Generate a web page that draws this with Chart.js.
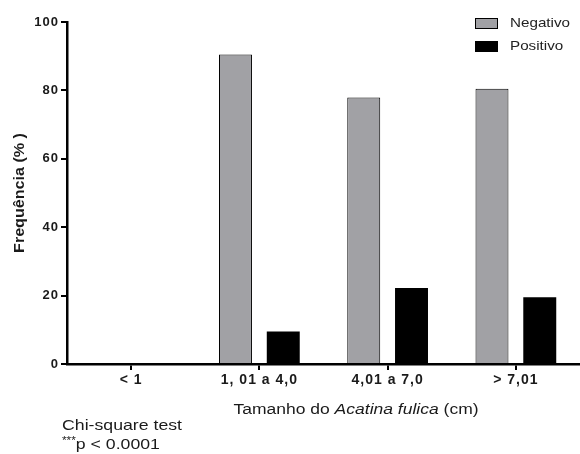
<!DOCTYPE html>
<html>
<head>
<meta charset="utf-8">
<script src="https://cdn.jsdelivr.net/npm/chart.js@4"></script>
<style>
html,body{margin:0;padding:0;background:#fff;}
#wrap{width:580px;height:454px;position:relative;}
</style>
</head>
<body>
<div id="wrap"><canvas id="c" width="580" height="454"></canvas></div>
<script>
const categories = ['< 1', '1, 01 a 4,0', '4,01 a 7,0', '> 7,01'];
const negativo = [0, 90.5, 77.9, 80.5];
const positivo = [0, 9.5, 22.2, 19.5];
const yTicks = [0, 20, 40, 60, 80, 100];
const seriesNames = ['Negativo', 'Positivo'];

const GRAY = '#a1a1a5';
const FONT = '"Liberation Sans", Arial, sans-serif';

// draw a run of text parts, stretched horizontally by sx, starting at x (or centred)
function stretched(ctx, parts, x, y, sx, align) {
  ctx.save();
  let total = 0;
  parts.forEach(p => { ctx.font = p.f; p.w = ctx.measureText(p.t).width; total += p.w; });
  let startX = align === 'center' ? x - total * sx / 2 : x;
  ctx.translate(startX, y);
  ctx.scale(sx, 1);
  ctx.textAlign = 'left';
  let cx = 0;
  parts.forEach(p => { ctx.font = p.f; ctx.fillText(p.t, cx, p.dy || 0); cx += p.w; });
  ctx.restore();
}

const overlay = {
  id: 'overlay',
  beforeDraw(chart) {
    chart.ctx.letterSpacing = '1px';
  },
  afterDraw(chart) {
    const ctx = chart.ctx;
    ctx.save();
    ctx.letterSpacing = '0px';
    ctx.textBaseline = 'middle';
    ctx.fillStyle = '#1a1a1a';
    // legend
    const items = [
      {label: seriesNames[0], fill: GRAY, y: 18},
      {label: seriesNames[1], fill: '#000', y: 41}
    ];
    items.forEach(it => {
      ctx.fillStyle = it.fill;
      ctx.fillRect(475, it.y, 23, 11);
      ctx.strokeStyle = '#000';
      ctx.lineWidth = 1;
      ctx.strokeRect(475.5, it.y + 0.5, 22, 10);
      ctx.fillStyle = '#222';
      stretched(ctx, [{t: it.label, f: '13px ' + FONT}], 510, it.y + 5, 1.17, 'left');
    });
    ctx.fillStyle = '#1a1a1a';
    // y title
    ctx.save();
    ctx.translate(20, 193);
    ctx.rotate(-Math.PI / 2);
    stretched(ctx, [{t: 'Frequência (% )', f: 'bold 14px ' + FONT}], 0, 0, 1.15, 'center');
    ctx.restore();
    // x title with italic part
    stretched(ctx, [
      {t: 'Tamanho do ', f: '14px ' + FONT},
      {t: 'Acatina fulica', f: 'italic 14px ' + FONT},
      {t: ' (cm)', f: '14px ' + FONT}
    ], 356, 410, 1.25, 'center');
    // statistics note
    stretched(ctx, [{t: 'Chi-square test', f: '15px ' + FONT}], 62, 426, 1.18, 'left');
    stretched(ctx, [
      {t: '***', f: '10px ' + FONT, dy: -4},
      {t: 'p < 0.0001', f: '15px ' + FONT}
    ], 62, 445, 1.18, 'left');
    ctx.restore();
  }
};

new Chart(document.getElementById('c'), {
  type: 'bar',
  data: {
    labels: categories,
    datasets: [
      {label: seriesNames[0], data: negativo, backgroundColor: GRAY, borderColor: '#000', borderWidth: 1, borderSkipped: 'bottom'},
      {label: seriesNames[1], data: positivo, backgroundColor: '#000', borderColor: '#000', borderWidth: 0}
    ]
  },
  options: {
    responsive: false,
    animation: false,
    categoryPercentage: 0.745,
    barPercentage: 0.69,
    layout: {padding: {top: 22, right: 0, left: 0, bottom: 0}},
    plugins: {legend: {display: false}, tooltip: {enabled: false}},
    scales: {
      x: {
        offset: true,
        afterFit(s) { s.height = 90; },
        grid: {display: true, drawOnChartArea: false, drawTicks: true, tickLength: 6, offset: false, color: '#000', lineWidth: 2},
        border: {display: true, color: '#000', width: 2.5},
        ticks: {color: '#1a1a1a', font: {family: FONT, size: 14, weight: 'bold'}, padding: 2, maxRotation: 0}
      },
      y: {
        min: 0, max: 100,
        afterFit(s) { s.width = 67; },
        afterBuildTicks(s) { s.ticks = yTicks.map(v => ({value: v})); },
        grid: {display: true, drawOnChartArea: false, drawTicks: true, tickLength: 6, color: '#000', lineWidth: 2},
        border: {display: true, color: '#000', width: 2.5},
        ticks: {color: '#1a1a1a', font: {family: FONT, size: 13, weight: 'bold'}, padding: 2}
      }
    }
  },
  plugins: [overlay]
});
</script>
</body>
</html>
